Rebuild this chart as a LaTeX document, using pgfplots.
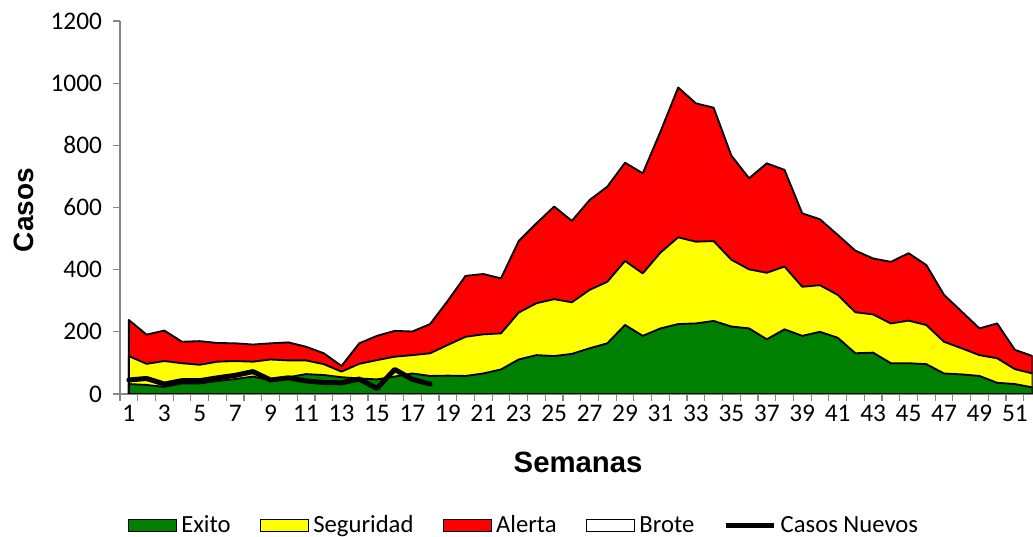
\documentclass[border=0pt]{standalone}
\usepackage{pgfplots}
\pgfplotsset{compat=1.18}
\usepackage{fontspec}
\setmainfont{Carlito}
\newfontfamily\arialfont{Liberation Sans}
\definecolor{exitoc}{HTML}{008000}
\definecolor{segc}{HTML}{FFFF00}
\definecolor{alertc}{HTML}{FF0000}
\definecolor{axgray}{HTML}{868686}

\pgfplotstableread{
w exito seg alerta
1 32 122 238
2 29 97 191
3 23 106 204
4 34 99 168
5 34 94 170
6 42 104 164
7 48 106 163
8 56 104 159
9 44 111 163
10 54 108 166
11 64 108 152
12 61 96 131
13 54 72 90
14 50 97 163
15 47 109 187
16 56 120 203
17 66 125 201
18 58 131 225
19 59 158 300
20 58 184 380
21 66 192 386
22 79 195 372
23 111 262 492
24 125 292 549
25 122 305 603
26 129 295 557
27 147 335 624
28 163 361 667
29 222 428 744
30 187 388 710
31 211 455 844
32 225 504 986
33 227 490 935
34 235 492 921
35 217 432 767
36 211 401 694
37 176 390 742
38 208 410 721
39 187 345 581
40 200 350 562
41 181 319 512
42 131 263 461
43 133 256 436
44 99 227 425
45 99 236 453
46 96 222 415
47 66 168 319
48 63 147 265
49 58 125 211
50 36 115 227
51 32 80 142
52 21 66 122
}\canal

\pgfplotstableread{
w casos
1 45
2 50
3 32
4 43
5 43
6 52
7 60
8 72
9 45
10 52
11 42
12 37
13 36
14 48
15 18
16 79
17 47
18 32
}\casos

\begin{document}
\begin{tikzpicture}
\begin{axis}[
  name=ax,
  scale only axis,
  width=684.45pt, height=279.75pt,
  xmin=0.5, xmax=52,
  ymin=0, ymax=1200,
  axis x line*=bottom, axis y line*=left,
  axis line style={-, draw=axgray, line width=0.9pt},
  tick align=outside,
  xtick={1,3,...,51},
  minor xtick={0.5,1.5,...,51.5},
  major x tick style={draw=none},
  minor tick length=5pt,
  major tick length=5pt,
  tick style={draw=axgray, line width=0.9pt},
  ytick={0,200,...,1200},
  /pgf/number format/assume math mode=true,
  /pgf/number format/1000 sep={},
  ticklabel style={font=\fontsize{19}{21}\selectfont, text=black},
  yticklabel style={xshift=-5pt},
  xticklabel style={yshift=0pt},
  xlabel={\arialfont\bfseries\fontsize{22}{24}\selectfont Semanas},
  ylabel={\arialfont\bfseries\fontsize{21}{24}\selectfont Casos},
  xlabel style={at={(0.502,-0.1823)}, anchor=center},
  ylabel style={at={(-0.1052,0.493)}, anchor=center},
  clip=true,
  legend columns=5,
  legend style={draw=none, fill=none, at={(0.4438,-0.352)}, anchor=center,
    font=\fontsize{18.5}{21}\selectfont,
    nodes={inner sep=3pt},
    /tikz/every even column/.append style={column sep=19pt}},
  legend cell align=left,
]
\addlegendimage{legend image code/.code={\draw[fill=exitoc, draw=black, line width=1pt] (0pt,-4.5pt) rectangle (36pt,4.5pt);}}
\addlegendentry{Exito}
\addlegendimage{legend image code/.code={\draw[fill=segc, draw=black, line width=1pt] (0pt,-4.5pt) rectangle (36pt,4.5pt);}}
\addlegendentry{Seguridad}
\addlegendimage{legend image code/.code={\draw[fill=alertc, draw=black, line width=1pt] (0pt,-4.5pt) rectangle (36pt,4.5pt);}}
\addlegendentry{Alerta}
\addlegendimage{legend image code/.code={\draw[fill=white, draw=black, line width=1pt] (0pt,-4.5pt) rectangle (36pt,4.5pt);}}
\addlegendentry{Brote}
\addlegendimage{legend image code/.code={\draw[black, line width=3.75pt] (0pt,0pt) -- (36pt,0pt);}}
\addlegendentry{Casos Nuevos}

\addplot[forget plot, fill=alertc, draw=black, line width=1.4pt, line join=round] table[x=w, y=alerta]{\canal} \closedcycle;
\addplot[forget plot, fill=segc, draw=black, line width=1.4pt, line join=round] table[x=w, y=seg]{\canal} \closedcycle;
\addplot[forget plot, fill=exitoc, draw=black, line width=1.4pt, line join=round] table[x=w, y=exito]{\canal} \closedcycle;
\addplot[forget plot, black, line width=3.75pt, line join=round, line cap=round] table[x=w, y=casos]{\casos};
\end{axis}
\pgfresetboundingbox
\path[use as bounding box] ([xshift=-90pt,yshift=-107.25pt]ax.south west) rectangle ([xshift=0.3pt,yshift=15.75pt]ax.north east);
\end{tikzpicture}
\end{document}
